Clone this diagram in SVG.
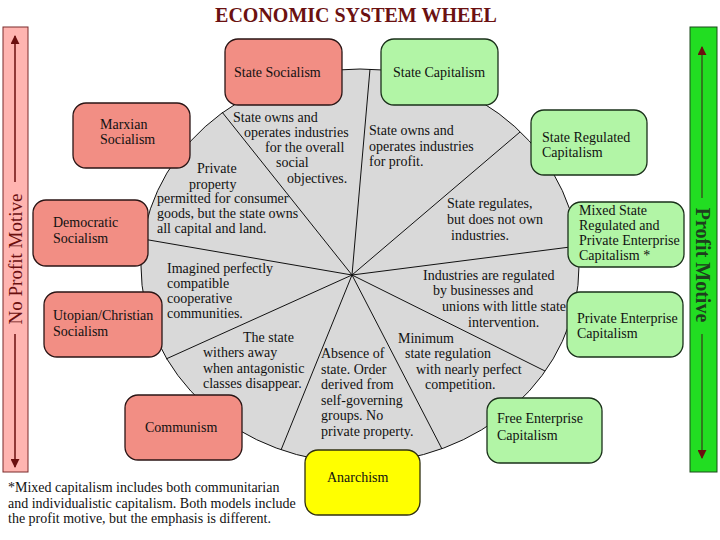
<svg xmlns="http://www.w3.org/2000/svg" width="720" height="540" viewBox="0 0 720 540">
<defs>
<marker id="ah" viewBox="0 0 10 10" refX="9" refY="5" markerWidth="9" markerHeight="9" markerUnits="userSpaceOnUse" orient="auto"><path d="M0,0 L10,5 L0,10 z" fill="#6b0f0f"/></marker>
<style>
text{font-family:"Liberation Serif","Times New Roman",serif;font-size:14px;fill:#111}
.red rect{fill:#f28e84;stroke:#2a1515;stroke-width:1.3}
.grn rect{fill:#b2f5a6;stroke:#1a301a;stroke-width:1.3}
.yel rect{fill:#ffff00;stroke:#303010;stroke-width:1.3}
.spoke{stroke:#111;stroke-width:1;fill:none}
</style>
</defs>
<rect width="720" height="540" fill="#ffffff"/>
<text x="356" y="22" text-anchor="middle" style="font-size:20px;font-weight:bold;fill:#6b1111">ECONOMIC SYSTEM WHEEL</text>

<g id="no-profit-bar">
<rect x="3" y="27" width="25" height="445" fill="#ffb4b0" stroke="#7a2a2a" stroke-width="1"/>
<line x1="15" y1="182" x2="15" y2="36" stroke="#6b0f0f" stroke-width="1.5" marker-end="url(#ah)"/>
<line x1="15" y1="334" x2="15" y2="467" stroke="#6b0f0f" stroke-width="1.5" marker-end="url(#ah)"/>
<text transform="translate(22,259) rotate(-90)" text-anchor="middle" style="font-size:19px;fill:#6b0f0f">No Profit Motive</text>
</g>
<g id="profit-bar">
<rect x="690" y="27" width="27" height="445" fill="#22dd22" stroke="#1a4a1a" stroke-width="1"/>
<line x1="702" y1="198" x2="702" y2="47" stroke="#3a3a1a" stroke-width="1.2" marker-end="url(#ah)"/>
<line x1="702" y1="334" x2="702" y2="458" stroke="#3a3a1a" stroke-width="1.2" marker-end="url(#ah)"/>
<text transform="translate(696,265) rotate(90)" text-anchor="middle" style="font-size:20px;font-weight:bold;fill:#1e3d1e">Profit Motive</text>
</g>

<g id="wheel">
<ellipse cx="360" cy="266" rx="219" ry="197" fill="#d9d9d9" stroke="#111" stroke-width="1"/>
</g>
<g id="connectors">
<line class="spoke" x1="352" y1="275" x2="370" y2="69"/>
<line class="spoke" x1="352" y1="275" x2="222" y2="112"/>
<line class="spoke" x1="352" y1="275" x2="143" y2="239"/>
<line class="spoke" x1="352" y1="275" x2="166" y2="359"/>
<line class="spoke" x1="352" y1="275" x2="281" y2="450"/>
<line class="spoke" x1="352" y1="275" x2="442" y2="449"/>
<line class="spoke" x1="352" y1="275" x2="545" y2="371"/>
<line class="spoke" x1="352" y1="275" x2="578" y2="246"/>
<line class="spoke" x1="352" y1="275" x2="520" y2="132"/>
</g>

<g id="segment-texts">
<text x="233" y="122">State owns and</text>
<text x="244" y="137">operates industries</text>
<text x="265" y="152">for the overall</text>
<text x="276" y="167">social</text>
<text x="287" y="183">objectives.</text>
<text x="197" y="173">Private</text>
<text x="189" y="189">property</text>
<text x="157" y="203">permitted for consumer</text>
<text x="157" y="218">goods, but the state owns</text>
<text x="157" y="233">all capital and land.</text>
<text x="369" y="135">State owns and</text>
<text x="369" y="151">operates industries</text>
<text x="369" y="166">for profit.</text>
<text x="447" y="208">State regulates,</text>
<text x="447" y="224">but does not own</text>
<text x="451" y="240">industries.</text>
<text x="423" y="280">Industries are regulated</text>
<text x="433" y="295">by businesses and</text>
<text x="442" y="311">unions with little state</text>
<text x="468" y="327">intervention.</text>
<text x="398" y="343">Minimum</text>
<text x="405" y="358">state regulation</text>
<text x="416" y="374">with nearly perfect</text>
<text x="425" y="389">competition.</text>
<text x="321" y="358">Absence of</text>
<text x="321" y="374">state. Order</text>
<text x="321" y="389">derived from</text>
<text x="321" y="405">self-governing</text>
<text x="321" y="420">groups. No</text>
<text x="321" y="436">private property.</text>
<text x="243" y="342">The state</text>
<text x="203" y="357">withers away</text>
<text x="203" y="373">when antagonistic</text>
<text x="203" y="388">classes disappear.</text>
<text x="167" y="273">Imagined perfectly</text>
<text x="167" y="288">compatible</text>
<text x="167" y="303">cooperative</text>
<text x="167" y="318">communities.</text>
</g>

<g id="state-socialism" class="red"><rect x="225" y="39" width="117" height="66" rx="13"/><text x="234" y="77">State Socialism</text></g>
<g id="state-capitalism" class="grn"><rect x="381" y="39" width="117" height="66" rx="13"/><text x="393" y="77">State Capitalism</text></g>
<g id="marxian-socialism" class="red"><rect x="73" y="103" width="117" height="65" rx="13"/><text x="100" y="129">Marxian</text><text x="100" y="144">Socialism</text></g>
<g id="state-regulated-capitalism" class="grn"><rect x="531" y="110" width="116" height="65" rx="13"/><text x="542" y="142">State Regulated</text><text x="542" y="157">Capitalism</text></g>
<g id="democratic-socialism" class="red"><rect x="33" y="200" width="115" height="66" rx="13"/><text x="53" y="227">Democratic</text><text x="53" y="243">Socialism</text></g>
<g id="mixed-capitalism" class="grn"><rect x="568" y="202" width="116" height="65" rx="13"/><text x="579" y="215">Mixed State</text><text x="579" y="230">Regulated and</text><text x="579" y="245">Private Enterprise</text><text x="579" y="260">Capitalism *</text></g>
<g id="utopian-socialism" class="red"><rect x="44" y="292" width="118" height="65" rx="13"/><text x="53" y="320">Utopian/Christian</text><text x="53" y="336">Socialism</text></g>
<g id="private-enterprise-capitalism" class="grn"><rect x="567" y="292" width="116" height="65" rx="13"/><text x="577" y="323">Private Enterprise</text><text x="577" y="338">Capitalism</text></g>
<g id="communism" class="red"><rect x="125" y="395" width="117" height="65" rx="13"/><text x="145" y="432">Communism</text></g>
<g id="free-enterprise-capitalism" class="grn"><rect x="487" y="398" width="115" height="65" rx="13"/><text x="497" y="423">Free Enterprise</text><text x="497" y="440">Capitalism</text></g>
<g id="anarchism" class="yel"><rect x="305" y="450" width="115" height="65" rx="13"/><text x="327" y="482">Anarchism</text></g>

<g id="footnote">
<text x="8" y="492">*Mixed capitalism includes both communitarian</text>
<text x="8" y="508">and individualistic capitalism. Both models include</text>
<text x="8" y="523">the profit motive, but the emphasis is different.</text>
</g>
</svg>
